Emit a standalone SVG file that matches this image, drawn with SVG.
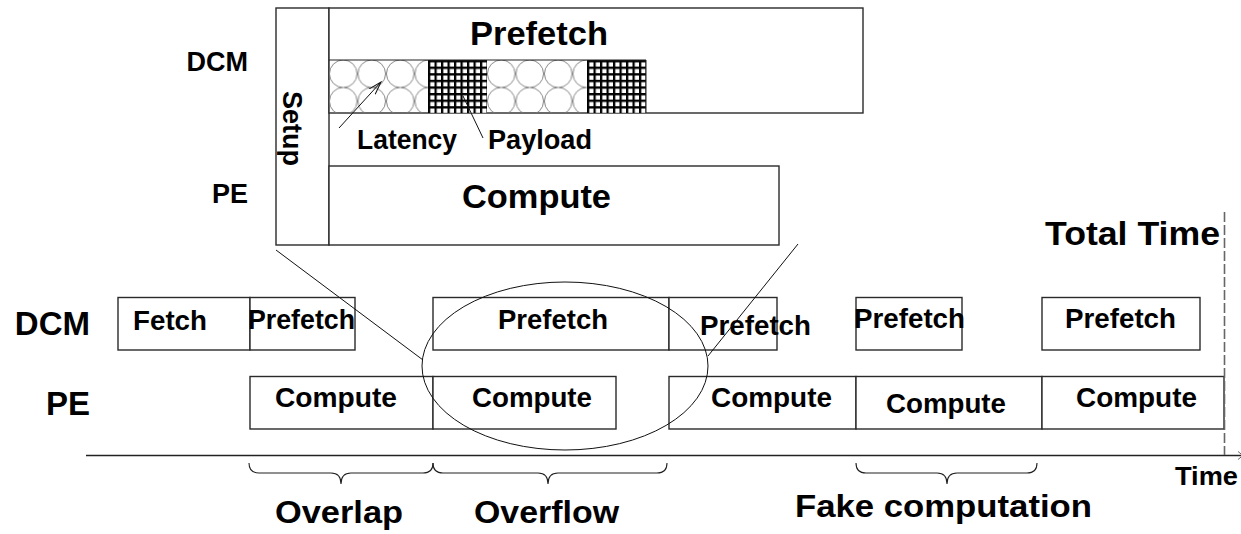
<svg xmlns="http://www.w3.org/2000/svg" width="1241" height="534" viewBox="0 0 1241 534">
  <style>
    .box { fill: #ffffff; stroke: #2a2a2a; stroke-width: 1.4; }
    .lbl { font-family: "Liberation Sans", Arial, Helvetica, sans-serif; font-weight: bold; fill: #000; }
    .thin { fill: none; stroke: #111; stroke-width: 1; }
    .brace { fill: none; stroke: #222; stroke-width: 1.1; }
  </style>
  <defs>
    <!-- bubble fill: latency part of a transfer -->
    <pattern id="bubblesA" patternUnits="userSpaceOnUse" x="329" y="60" width="28.5" height="27.5">
      <circle cx="14.25" cy="13.75" r="13.8" fill="none" stroke="#777" stroke-width="0.9"/>
    </pattern>
    <pattern id="bubblesB" patternUnits="userSpaceOnUse" x="487" y="60" width="28.5" height="27.5">
      <circle cx="14.25" cy="13.75" r="13.8" fill="none" stroke="#777" stroke-width="0.9"/>
    </pattern>
    <!-- dense grid fill: payload part of a transfer -->
    <pattern id="gridA" patternUnits="userSpaceOnUse" x="428" y="60" width="6.5" height="6.6">
      <rect width="6.5" height="6.6" fill="#fff"/>
      <path d="M1.1,0 V6.6 M0,1.1 H6.5" stroke="#000" stroke-width="2.3"/>
    </pattern>
    <pattern id="gridB" patternUnits="userSpaceOnUse" x="587" y="60" width="6.5" height="6.6">
      <rect width="6.5" height="6.6" fill="#fff"/>
      <path d="M1.1,0 V6.6 M0,1.1 H6.5" stroke="#000" stroke-width="2.3"/>
    </pattern>
    <marker id="openArrow" markerWidth="14" markerHeight="10" refX="13" refY="5" orient="auto" markerUnits="userSpaceOnUse">
      <path d="M0,1 L13,5 L0,9" fill="none" stroke="#111" stroke-width="1"/>
    </marker>
  </defs>

  <!-- ===== zoomed detail of one iteration ===== -->
  <g id="detail-labels">
    <text class="lbl" x="248" y="71" font-size="27" text-anchor="end">DCM</text>
    <text class="lbl" x="248" y="203" font-size="27" text-anchor="end">PE</text>
  </g>

  <g id="detail-setup">
    <rect class="box" x="276" y="8" width="53" height="237"/>
    <text class="lbl" font-size="27" text-anchor="middle" transform="translate(283,128.5) rotate(90)">Setup</text>
  </g>

  <g id="detail-prefetch">
    <rect class="box" x="329" y="8" width="534" height="105"/>
    <rect x="329" y="60" width="99" height="53" fill="url(#bubblesA)"/>
    <rect x="428" y="60" width="59" height="53" fill="url(#gridA)"/>
    <rect x="487" y="60" width="100" height="53" fill="url(#bubblesB)"/>
    <rect x="587" y="60" width="59" height="53" fill="url(#gridB)"/>
    <line x1="329" y1="60" x2="646" y2="60" stroke="#222" stroke-width="1.2"/>
    <line x1="646" y1="60" x2="646" y2="113" stroke="#222" stroke-width="1"/>
    <text class="lbl" x="470" y="45" font-size="33" textLength="138" lengthAdjust="spacingAndGlyphs">Prefetch</text>
  </g>

  <g id="detail-compute">
    <rect class="box" x="329" y="166" width="450" height="79"/>
    <text class="lbl" x="462" y="208" font-size="33" textLength="149" lengthAdjust="spacingAndGlyphs">Compute</text>
  </g>

  <g id="detail-annotations">
    <text class="lbl" x="357" y="149" font-size="27" textLength="100" lengthAdjust="spacingAndGlyphs">Latency</text>
    <text class="lbl" x="488" y="149" font-size="27" textLength="104" lengthAdjust="spacingAndGlyphs">Payload</text>
  </g>

  <!-- ===== timeline ===== -->
  <g id="row-labels">
    <text class="lbl" x="90" y="335" font-size="33" text-anchor="end">DCM</text>
    <text class="lbl" x="90" y="415" font-size="33" text-anchor="end">PE</text>
  </g>

  <g id="dcm-fetch">
    <rect class="box" x="118" y="297.5" width="132" height="52.5"/>
    <text class="lbl" x="133" y="330" font-size="28" textLength="74" lengthAdjust="spacingAndGlyphs">Fetch</text>
  </g>
  <g id="dcm-prefetch-1">
    <rect class="box" x="250" y="297.5" width="105" height="52.5"/>
    <text class="lbl" x="248" y="329" font-size="28" textLength="107" lengthAdjust="spacingAndGlyphs">Prefetch</text>
  </g>
  <g id="dcm-prefetch-2">
    <rect class="box" x="433" y="297.5" width="236" height="52.5"/>
    <text class="lbl" x="498" y="329" font-size="28" textLength="110" lengthAdjust="spacingAndGlyphs">Prefetch</text>
  </g>
  <g id="dcm-prefetch-3">
    <rect class="box" x="669" y="297.5" width="108" height="52.5"/>
    <text class="lbl" x="700" y="335" font-size="28" textLength="111" lengthAdjust="spacingAndGlyphs">Prefetch</text>
  </g>
  <g id="dcm-prefetch-4">
    <rect class="box" x="856" y="297.5" width="106" height="52.5"/>
    <text class="lbl" x="854" y="328" font-size="28" textLength="111" lengthAdjust="spacingAndGlyphs">Prefetch</text>
  </g>
  <g id="dcm-prefetch-5">
    <rect class="box" x="1042" y="297.5" width="158" height="52.5"/>
    <text class="lbl" x="1065" y="328" font-size="28" textLength="111" lengthAdjust="spacingAndGlyphs">Prefetch</text>
  </g>

  <g id="pe-compute-1">
    <rect class="box" x="250" y="376.5" width="183" height="52.5"/>
    <text class="lbl" x="275" y="407" font-size="28" textLength="122" lengthAdjust="spacingAndGlyphs">Compute</text>
  </g>
  <g id="pe-compute-2">
    <rect class="box" x="433" y="376.5" width="183" height="52.5"/>
    <text class="lbl" x="472" y="407" font-size="28" textLength="120" lengthAdjust="spacingAndGlyphs">Compute</text>
  </g>
  <g id="pe-compute-3">
    <rect class="box" x="669" y="376.5" width="187" height="52.5"/>
    <text class="lbl" x="711" y="407" font-size="28" textLength="121" lengthAdjust="spacingAndGlyphs">Compute</text>
  </g>
  <g id="pe-compute-4">
    <rect class="box" x="856" y="376.5" width="186" height="52.5"/>
    <text class="lbl" x="886" y="413" font-size="28" textLength="120" lengthAdjust="spacingAndGlyphs">Compute</text>
  </g>
  <g id="pe-compute-5">
    <rect class="box" x="1042" y="376.5" width="182" height="52.5"/>
    <text class="lbl" x="1076" y="407" font-size="28" textLength="121" lengthAdjust="spacingAndGlyphs">Compute</text>
  </g>

  <!-- time axis and end-of-run marker -->
  <g id="time-axis">
    <line x1="86" y1="455.5" x2="1241" y2="455.5" stroke="#222" stroke-width="1.3"/>
    <path d="M1238,451.5 L1243,455.5 L1238,459.5" fill="none" stroke="#444" stroke-width="0.8"/>
    <text class="lbl" x="1175" y="485" font-size="26" textLength="63" lengthAdjust="spacingAndGlyphs">Time</text>
  </g>
  <g id="total-time">
    <line x1="1224.5" y1="212" x2="1224.5" y2="455" stroke="#666" stroke-width="1.6" stroke-dasharray="10 3"/>
    <text class="lbl" x="1045" y="245" font-size="34" textLength="175" lengthAdjust="spacingAndGlyphs">Total Time</text>
  </g>

  <!-- phase braces -->
  <g id="phase-overlap">
    <path class="brace" d="M249,463 Q249,473 259,473 L331,473 Q341,473 341,484 Q341,473 351,473 L423,473 Q433,473 433,463"/>
    <text class="lbl" x="275" y="523" font-size="31" textLength="128" lengthAdjust="spacingAndGlyphs">Overlap</text>
  </g>
  <g id="phase-overflow">
    <path class="brace" d="M433,463 Q433,473 443,473 L538,473 Q548,473 548,484 Q548,473 558,473 L657,473 Q667,473 667,463"/>
    <text class="lbl" x="474" y="523" font-size="31" textLength="145" lengthAdjust="spacingAndGlyphs">Overflow</text>
  </g>
  <g id="phase-fake">
    <path class="brace" d="M856,463 Q856,473 866,473 L937,473 Q947,473 947,484 Q947,473 957,473 L1027,473 Q1037,473 1037,463"/>
    <text class="lbl" x="795" y="517" font-size="31" textLength="297" lengthAdjust="spacingAndGlyphs">Fake computation</text>
  </g>

  <!-- connectors: zoom lines, highlight ellipse, callouts -->
  <g id="connectors">
    <ellipse class="thin" cx="565" cy="366" rx="143" ry="84"/>
    <line class="thin" x1="276" y1="250" x2="423" y2="360"/>
    <line class="thin" x1="798" y1="244" x2="708" y2="356"/>
    <line class="thin" x1="339" y1="128" x2="381" y2="82" marker-end="url(#openArrow)"/>
    <line class="thin" x1="463" y1="96" x2="483" y2="138"/>
  </g>
</svg>
